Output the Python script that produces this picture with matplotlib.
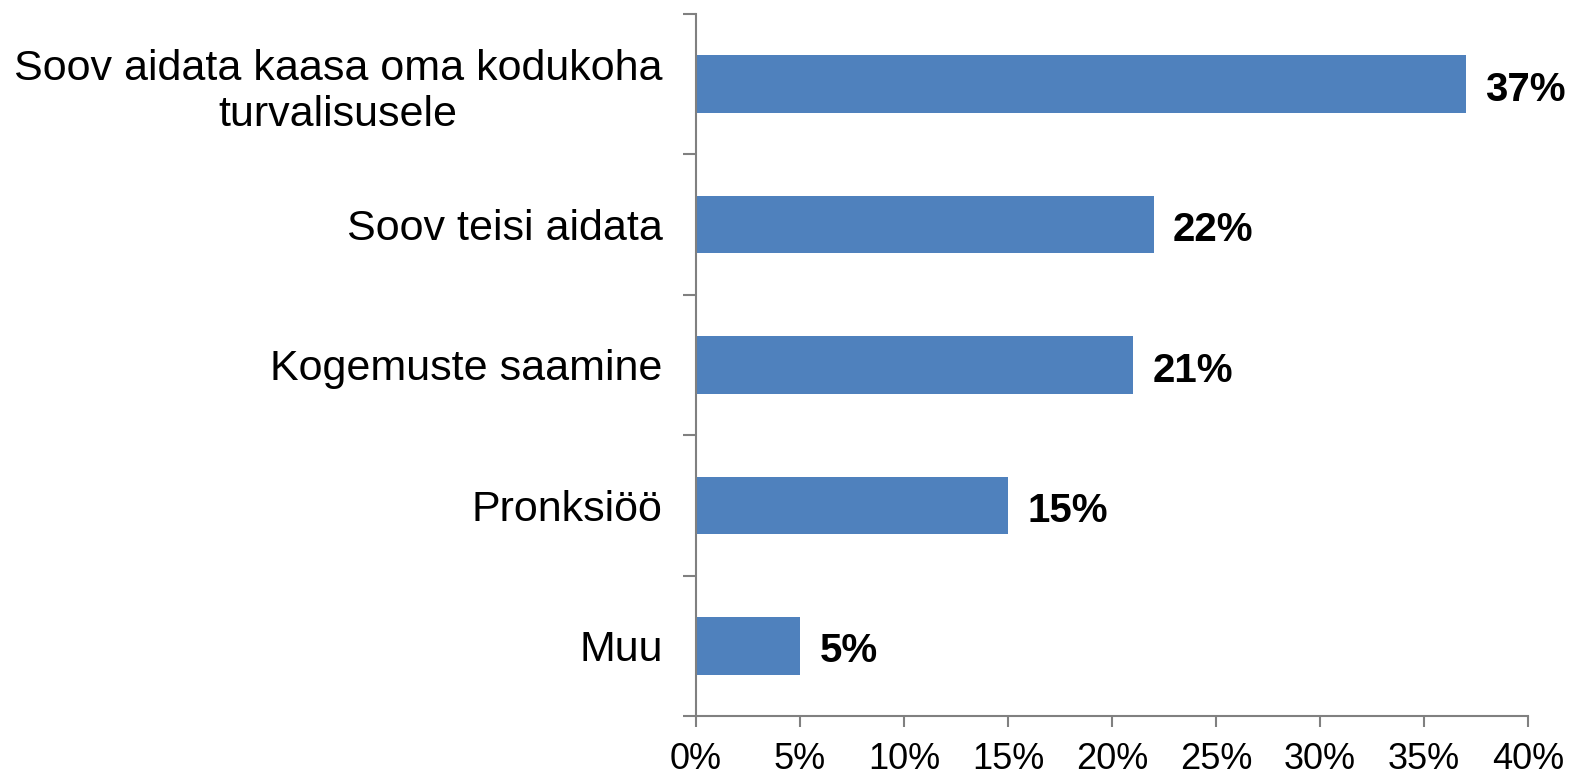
import matplotlib
matplotlib.use('Agg')
import matplotlib.pyplot as plt
from matplotlib.ticker import PercentFormatter

# data (top to bottom)
categories = ['Soov aidata kaasa oma kodukoha\nturvalisusele', 'Soov teisi aidata',
              'Kogemuste saamine', 'Pronksiöö', 'Muu']
values = [37, 22, 21, 15, 5]
x_ticks = [0, 5, 10, 15, 20, 25, 30, 35, 40]

plt.rcParams['font.family'] = ['Liberation Sans', 'DejaVu Sans']

fig = plt.figure(figsize=(15.72, 7.76), dpi=100)
ax = fig.add_axes([0.4427, 0.0773, 0.972 - 0.4427, 0.982 - 0.0773])

pos = list(range(len(categories)))[::-1]
bars = ax.barh(pos, values, height=0.41, color='#4F81BD')

for p, v in zip(pos, values):
    ax.annotate(f'{v}%', (v, p), xytext=(14, -4), textcoords='offset points',
                va='center', ha='left', fontsize=29, fontweight='bold')

ax.set_xlim(0, 40)
ax.set_ylim(-0.5, len(categories) - 0.5)
ax.set_xticks(x_ticks)
ax.xaxis.set_major_formatter(PercentFormatter(decimals=0))

# category boundaries as ticks, labels in between
ax.set_yticks([p - 0.5 for p in range(len(categories) + 1)])
ax.set_yticklabels([])
ax.set_yticks(pos, minor=True)
ax.set_yticklabels(categories, minor=True, fontsize=31, multialignment='center',
                   linespacing=1.2)
ax.tick_params(axis='y', which='minor', length=0, pad=24)
ax.tick_params(axis='y', which='major', length=9.5, width=1.5, color='#808080')
ax.tick_params(axis='x', length=8, width=1.5, color='#808080', labelsize=26, pad=11)

for s in ['top', 'right']:
    ax.spines[s].set_visible(False)
for s in ['left', 'bottom']:
    ax.spines[s].set_color('#808080')
    ax.spines[s].set_linewidth(1.5)

fig.savefig('out.png', dpi=100)
